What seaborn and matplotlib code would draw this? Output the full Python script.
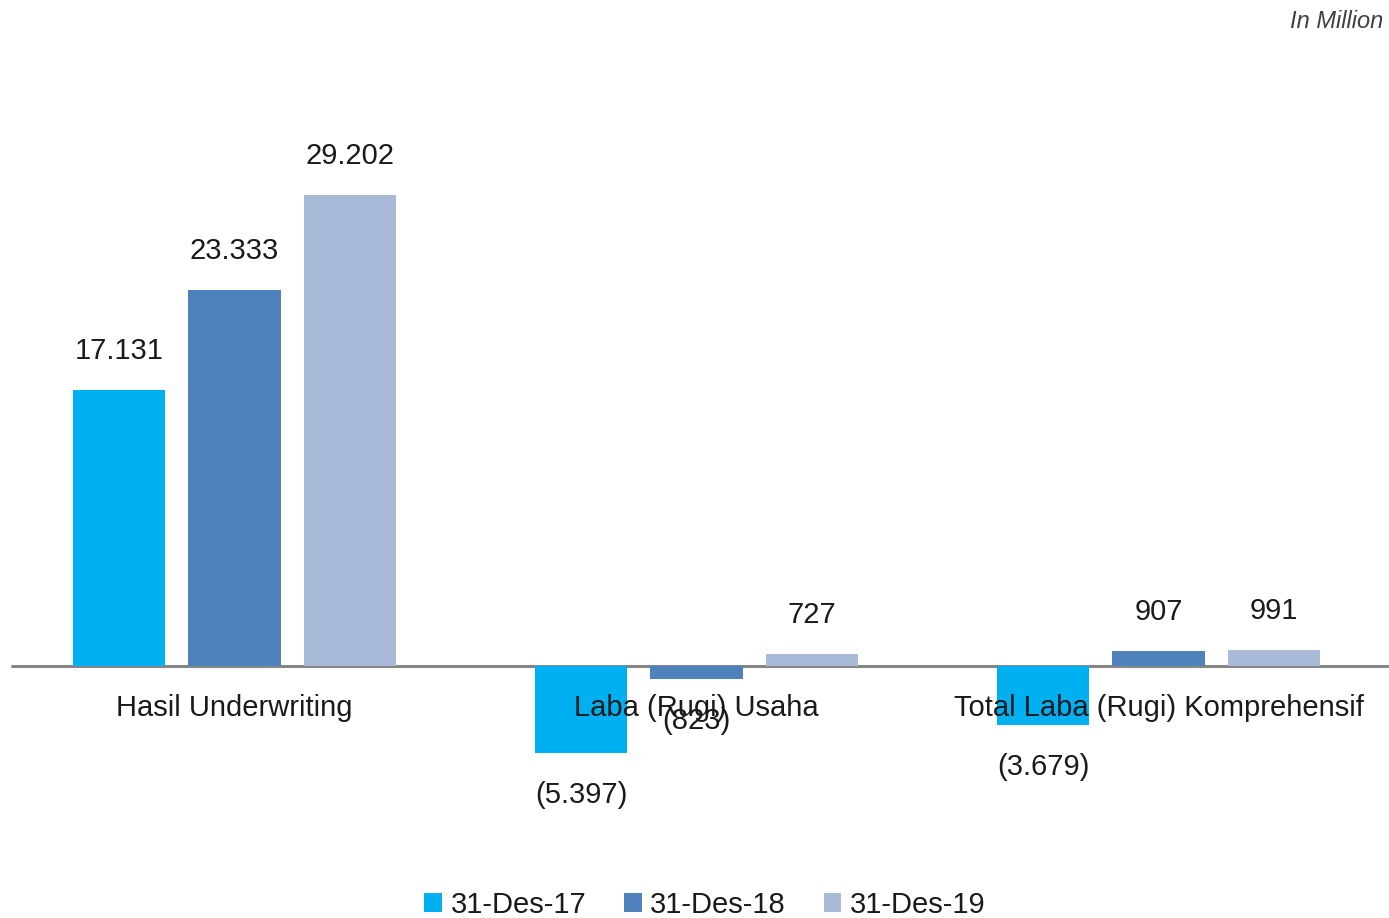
import pandas as pd
import matplotlib
matplotlib.use("Agg")
import matplotlib.pyplot as plt
import seaborn as sns

# data (in million)
kategori = ["Hasil Underwriting", "Laba (Rugi) Usaha", "Total Laba (Rugi) Komprehensif"]
periode = ["31-Des-17", "31-Des-18", "31-Des-19"]
nilai_2017 = [17131, -5397, -3679]
nilai_2018 = [23333, -823, 907]
nilai_2019 = [29202, 727, 991]
warna = ["#00B0F0", "#4F81BD", "#A9B9D8"]

rows = []
for p, vals in zip(periode, [nilai_2017, nilai_2018, nilai_2019]):
    for k, v in zip(kategori, vals):
        rows.append({"kategori": k, "periode": p, "nilai": v})
df = pd.DataFrame(rows)


def fmt(v):
    s = f"{abs(v):,}".replace(",", ".")
    return f"({s})" if v < 0 else s


sns.set_theme(style="white")
plt.rcParams["font.family"] = ["Liberation Sans", "DejaVu Sans"]

fig = plt.figure(figsize=(13.89, 9.18), dpi=100)
ax = fig.add_axes([0.0025, 0.0741, 0.998, 0.8606])

sns.barplot(data=df, x="kategori", y="nilai", hue="periode", order=kategori,
            hue_order=periode, palette=warna, width=0.75, gap=0.2,
            saturation=1, linewidth=0, ax=ax)

ax.set_ylim(-11407, 37570)
ax.set_xlim(-0.5, 2.5)
ax.axhline(0, xmin=0.006, xmax=1, color="#868686", lw=2.2, zorder=0.5)

for s in ax.spines.values():
    s.set_visible(False)
ax.set_xticks([])
ax.set_yticks([])
ax.set_xlabel("")
ax.set_ylabel("")

txt_color = "#1a1a1a"
for cont in ax.containers:
    for bar in cont:
        h = bar.get_height()
        xc = bar.get_x() + bar.get_width() / 2
        if h >= 0:
            ax.annotate(fmt(int(h)), (xc, h), xytext=(0, 18), textcoords="offset points",
                        ha="center", va="bottom", fontsize=21, color=txt_color)
        else:
            ax.annotate(fmt(int(h)), (xc, h), xytext=(0, -20), textcoords="offset points",
                        ha="center", va="top", fontsize=21, color=txt_color)

for i, k in enumerate(kategori):
    ax.annotate(k, (i, 0), xytext=(0, -30), textcoords="offset points",
                ha="center", va="center", fontsize=21, color=txt_color)

handles, labels = ax.get_legend_handles_labels()
ax.legend(handles, labels, ncol=3, loc="center",
          bbox_to_anchor=(705 / 1389, 1 - 905 / 918), bbox_transform=fig.transFigure,
          frameon=False, fontsize=21, handlelength=0.6, handleheight=0.6,
          handletextpad=0.3, columnspacing=1.3, labelcolor=txt_color)

fig.text(1383 / 1389, 1 - 22 / 918, "In Million", ha="right", va="center",
         fontsize=17, style="italic", color="#404040")

fig.savefig("out.png", dpi=100)
